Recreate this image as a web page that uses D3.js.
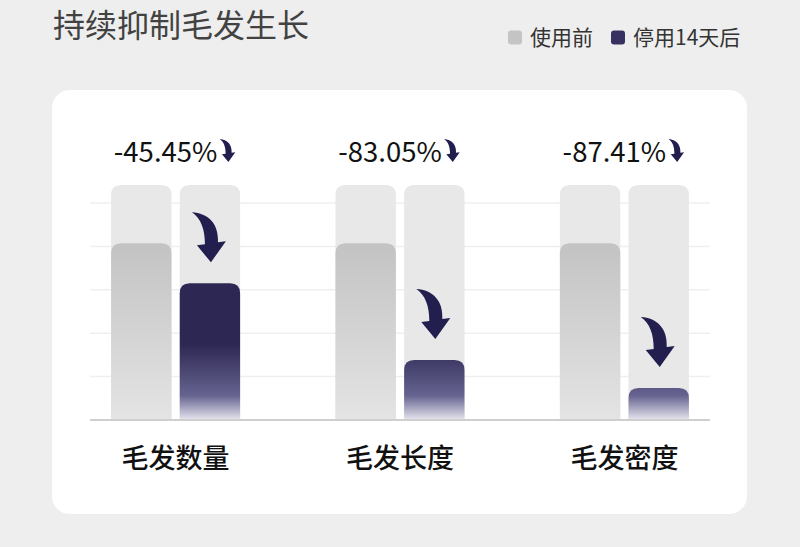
<!DOCTYPE html>
<html><head><meta charset="utf-8">
<script src="https://cdn.jsdelivr.net/npm/d3@7"></script>
<style>
html,body{margin:0;padding:0;background:#eeeeee;}
svg{display:block;font-family:"Noto Sans CJK SC","Noto Sans",sans-serif;}
</style></head>
<body>
<svg id="c" width="800" height="547"></svg>
<script>
const title = "持续抑制毛发生长";
const seriesNames = ["使用前", "停用14天后"];
const categories = ["毛发数量", "毛发长度", "毛发密度"];
const beforeValues = [81.5, 81.5, 81.5];
const afterValues = [63, 27.6, 14.7];
const changeLabels = ["-45.45%", "-83.05%", "-87.41%"];
const trackMax = 108.3;
const gridTicks = [20, 40, 60, 80, 100];

const svg = d3.select("#c");

// card
svg.append("rect").attr("x", 52).attr("y", 90).attr("width", 695).attr("height", 424)
  .attr("rx", 18).attr("fill", "#ffffff");

// title
svg.append("text").attr("x", 53).attr("y", 37).text(title)
  .attr("font-size", 32).attr("fill", "#424242");

// legend
const legendColors = ["#c4c4c4", "#363160"];
const legendX = [508, 611];
seriesNames.forEach((n, i) => {
  svg.append("rect").attr("x", legendX[i]).attr("y", 30.5).attr("width", 14).attr("height", 14)
    .attr("rx", 3).attr("fill", legendColors[i]);
  svg.append("text").attr("x", legendX[i] + 22).attr("y", 45).text(n)
    .attr("font-size", 21).attr("fill", "#333333");
});

const x = d3.scaleBand().domain(categories).range([90, 710]).paddingInner(0.425).paddingOuter(0.094);
const xs = d3.scaleBand().domain([0, 1]).range([0, x.bandwidth()]).paddingInner(0.12);
const y = d3.scaleLinear().domain([0, 100]).range([420, 203]);

const defs = svg.append("defs");
const gg = defs.append("linearGradient").attr("id", "gGray").attr("x1", 0).attr("y1", 0).attr("x2", 0).attr("y2", 1);
gg.append("stop").attr("offset", 0).attr("stop-color", "#c3c3c3");
gg.append("stop").attr("offset", 1).attr("stop-color", "#e4e4e4");
const gd = defs.append("linearGradient").attr("id", "gDark").attr("gradientUnits", "userSpaceOnUse")
  .attr("x1", 0).attr("x2", 0).attr("y1", y(35)).attr("y2", y(0));
gd.append("stop").attr("offset", 0).attr("stop-color", "#2d2853");
gd.append("stop").attr("offset", 0.68).attr("stop-color", "#666390");
gd.append("stop").attr("offset", 1).attr("stop-color", "#e6e6ee");

// gridlines
svg.append("g").selectAll("line").data(gridTicks).join("line")
  .attr("x1", 90).attr("x2", 710).attr("y1", d => y(d)).attr("y2", d => y(d))
  .attr("stroke", "#efefef").attr("stroke-width", 1.5);

function topRounded(x0, y0, w, h, r) {
  r = Math.min(r, h, w / 2);
  return `M${x0},${y0 + h}V${y0 + r}Q${x0},${y0} ${x0 + r},${y0}H${x0 + w - r}Q${x0 + w},${y0} ${x0 + w},${y0 + r}V${y0 + h}Z`;
}

const arrowPath = "M-19,-50 C-2,-49 8,-38 7,-20 L15,-21 L0,0 L-14,-17 L-6,-18 C-6,-33 -10,-44 -19,-50 Z";

const groups = svg.append("g").selectAll("g").data(categories).join("g")
  .attr("transform", d => `translate(${x(d)},0)`);

// tracks
groups.each(function () {
  const g = d3.select(this);
  [0, 1].forEach(k => {
    g.append("path").attr("d", topRounded(xs(k), y(trackMax), xs.bandwidth(), y(0) - y(trackMax), 10))
      .attr("fill", "#e8e8e8");
  });
});
// before bars
groups.append("path").attr("d", (d, i) => topRounded(xs(0), y(beforeValues[i]), xs.bandwidth(), y(0) - y(beforeValues[i]), 10))
  .attr("fill", "url(#gGray)");
// after bars
groups.append("path").attr("d", (d, i) => topRounded(xs(1), y(afterValues[i]), xs.bandwidth(), y(0) - y(afterValues[i]), 10))
  .attr("fill", "url(#gDark)");
// big arrows
groups.append("path").attr("d", arrowPath)
  .attr("transform", (d, i) => `translate(${xs(1) + xs.bandwidth() / 2 + 1},${y(afterValues[i]) - 21})`)
  .attr("fill", "#221e4d");

// baseline
svg.append("line").attr("x1", 90).attr("x2", 710).attr("y1", y(0)).attr("y2", y(0))
  .attr("stroke", "#cfcfcf").attr("stroke-width", 2);

// category labels
groups.append("text").attr("x", x.bandwidth() / 2).attr("y", 468).attr("text-anchor", "middle")
  .text(d => d).attr("font-size", 27).attr("font-weight", 500).attr("fill", "#111111");

// change labels with small arrow
groups.each(function (d, i) {
  const g = d3.select(this);
  const t = g.append("text").attr("y", 162).text(changeLabels[i])
    .attr("font-size", 27.5).attr("fill", "#111111");
  const tw = t.node().getComputedTextLength();
  const total = tw + 20;
  const sx = x.bandwidth() / 2 - total / 2;
  t.attr("x", sx);
  g.append("path").attr("d", arrowPath)
    .attr("transform", `translate(${sx + tw + 11},162) scale(0.46)`)
    .attr("fill", "#221e4d");
});
</script>
</body></html>
